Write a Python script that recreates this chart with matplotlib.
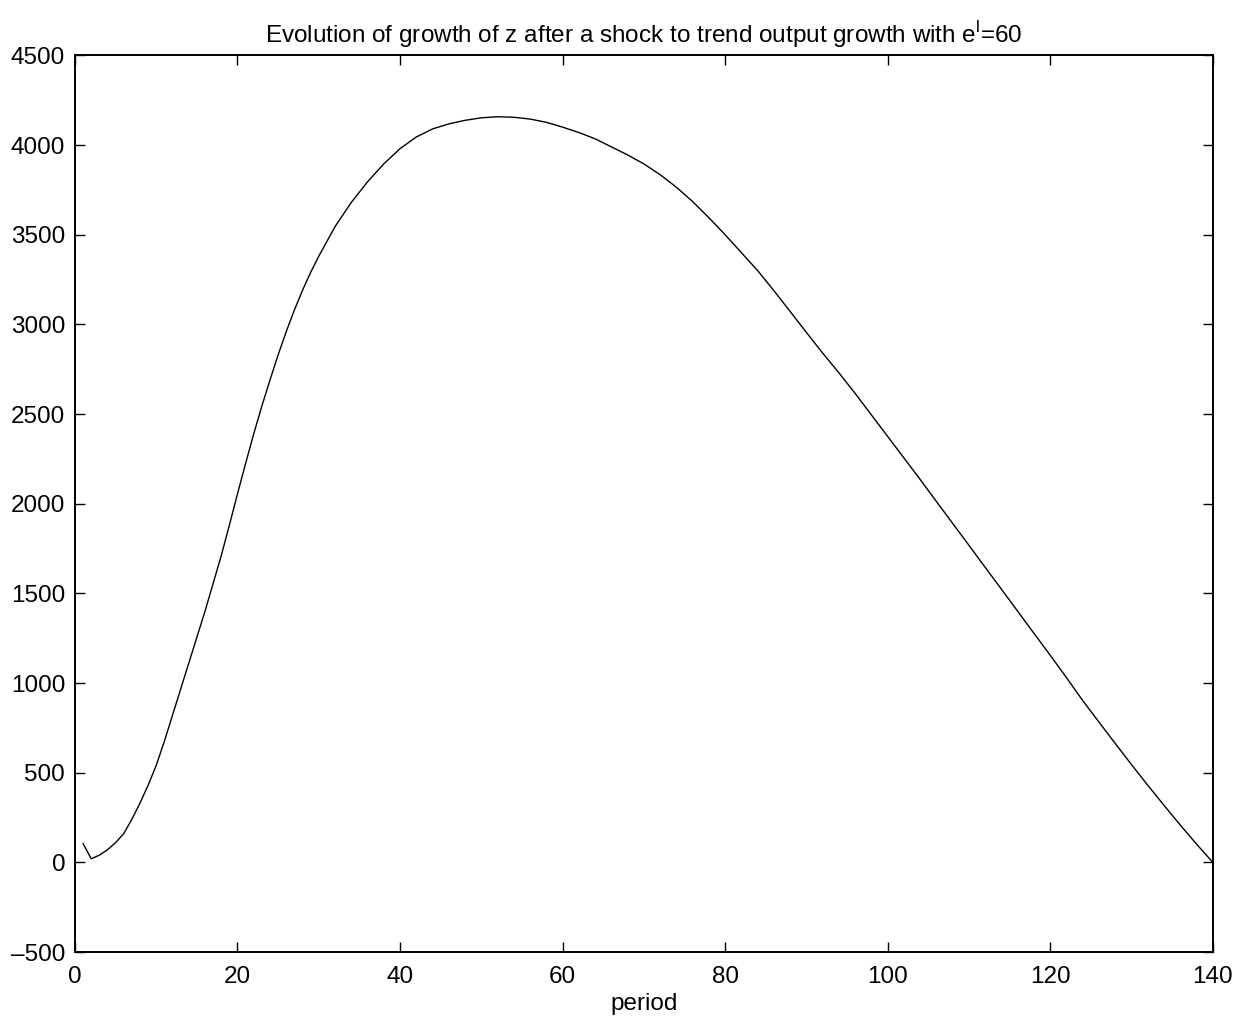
import matplotlib.pyplot as plt

plt.rcParams['font.family'] = ['Liberation Sans', 'DejaVu Sans']

# values
periods = [1, 2, 3, 4, 5, 6, 7, 8, 9, 10, 11, 12, 13, 14, 15, 16, 17, 18,
           19, 20, 21, 22, 23, 24, 25, 26, 27, 28, 29, 30, 32, 34, 36, 38,
           40, 42, 44, 46, 48, 50, 52, 54, 56, 58, 60, 62, 64, 66, 68, 70,
           72, 74, 76, 78, 80, 82, 84, 86, 88, 90, 92, 94, 96, 98, 100,
           102, 104, 106, 108, 110, 112, 114, 116, 118, 120, 122, 124, 126,
           128, 130, 132, 134, 136, 138, 140]
growth_z = [105, 20, 40, 70, 110, 160, 240, 330, 430, 540, 675, 820, 965,
            1110, 1255, 1400, 1555, 1710, 1880, 2055, 2225, 2390, 2545,
            2690, 2830, 2960, 3080, 3190, 3290, 3380, 3545, 3680, 3795,
            3895, 3980, 4045, 4090, 4118, 4138, 4152, 4158, 4155, 4145,
            4127, 4100, 4070, 4035, 3990, 3945, 3895, 3835, 3765, 3685,
            3595, 3500, 3400, 3300, 3188, 3072, 2955, 2840, 2730, 2615,
            2495, 2375, 2255, 2135, 2012, 1890, 1768, 1645, 1523, 1400,
            1277, 1155, 1030, 902, 782, 663, 545, 430, 318, 208, 102, 0]

xticks = [0, 20, 40, 60, 80, 100, 120, 140]
yticks = [-500, 0, 500, 1000, 1500, 2000, 2500, 3000, 3500, 4000, 4500]

fig = plt.figure(figsize=(12.49, 10.26), dpi=100)
ax = fig.add_axes([0.060, 0.0721, 0.911, 0.8739])

ax.plot(periods, growth_z, color='black', lw=1.0)

ax.set_xlim(0, 140)
ax.set_ylim(-500, 4500)
ax.set_xticks(xticks)
ax.set_yticks(yticks)
ax.set_yticklabels([str(v).replace('-', '\u2013') for v in yticks])
ax.tick_params(direction='in', length=7, width=1, labelsize=17.5,
               top=True, right=True, pad=7)
ax.tick_params(axis='x', pad=10)
for s in ax.spines.values():
    s.set_linewidth(1.4)

ax.set_xlabel('period', fontsize=17.5, labelpad=4)
ax.set_title('Evolution of growth of z after a shock to trend output growth with e$^\\mathregular{l}$=60',
             fontsize=17.5, pad=9)

fig.savefig('out.png', dpi=100)
